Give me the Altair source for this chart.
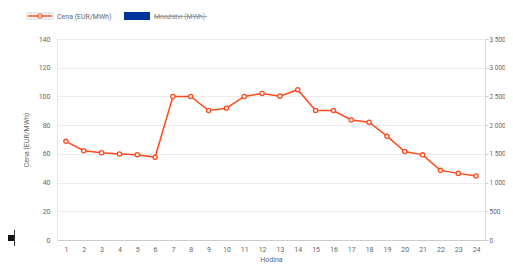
import altair as alt
import pandas as pd

hours = list(range(1, 25))
cena = [68.7, 62.2, 60.8, 59.9, 59.4, 57.6, 100.0, 100.0, 90.2, 91.8, 100.0, 102.1,
        100.2, 104.7, 90.2, 90.2, 83.6, 82.0, 72.3, 61.6, 59.3, 48.5, 46.4, 44.6]
left_ticks = [0, 20, 40, 60, 80, 100, 120, 140]
right_ticks = [0, 500, 1000, 1500, 2000, 2500, 3000, 3500]
legend_labels = ["Cena (EUR/MWh)", "Množství (MWh)"]

df = pd.DataFrame({"hodina": hours, "cena": cena})

RED = "#ff4a1c"
BLUE = "#003399"
FONT = "Roboto"
PL = 49  # left padding; plot starts at page x = 8 + PL

base = alt.Chart(df)

x_enc = alt.X("hodina:O", title="Hodina",
              scale=alt.Scale(type="point", padding=0.5),
              axis=alt.Axis(labelAngle=0, ticks=False, domainColor="#cccccc",
                            labelColor="#666666", labelFontSize=7, labelPadding=5,
                            titleColor="#666666", titleFontSize=7, titleFontWeight="normal",
                            titlePadding=3, grid=False))

line = base.mark_line(color=RED, strokeWidth=1.5, point=alt.OverlayMarkDef(
    filled=True, fill="white", stroke=RED, strokeWidth=1.3, size=18)).encode(
    x=x_enc,
    y=alt.Y("cena:Q", title="Cena (EUR/MWh)",
            scale=alt.Scale(domain=[0, 140], nice=False),
            axis=alt.Axis(values=left_ticks, ticks=False, domainColor="#e6e6e6",
                          gridColor="#ececec", labelColor="#666666", labelFontSize=7,
                          labelPadding=7, titleColor="#666666", titleFontSize=7,
                          titleFontWeight="normal", titlePadding=9))
)

right = base.mark_line(opacity=0).encode(
    x=x_enc,
    y=alt.Y("cena:Q", title=None,
            scale=alt.Scale(domain=[0, 3500], nice=False),
            axis=alt.Axis(orient="right", values=right_ticks, grid=False,
                          domainColor="#dddddd", tickColor="#cccccc", tickSize=3,
                          labelColor="#666666", labelFontSize=6.5, labelPadding=1,
                          labelExpr="replace(format(datum.value, ','), ',', ' ')"))
)

# legend (decoration), offsets relative to plot origin
ox = 59 - 8 - PL
leg_df = pd.DataFrame({"label": legend_labels})
c1 = alt.Chart(leg_df).transform_filter("datum.label == 'Cena (EUR/MWh)'")
c2 = alt.Chart(leg_df).transform_filter("datum.label == 'Množství (MWh)'")
leg_box = c1.mark_rect(fill="white", stroke="#cccccc", strokeWidth=0.8).encode(
    x=alt.value(-32 + ox), x2=alt.value(-6 + ox), y=alt.value(-26), y2=alt.value(-20))
leg_line = c1.mark_rule(color=RED, strokeWidth=1.5).encode(
    x=alt.value(-31 + ox), x2=alt.value(-7 + ox), y=alt.value(-23))
leg_pt = c1.mark_point(filled=True, fill="white", stroke=RED, strokeWidth=1.3, size=18).encode(
    x=alt.value(-19 + ox), y=alt.value(-23))
leg_t1 = c1.mark_text(align="left", baseline="middle", fontSize=7, color="#666666",
                      font=FONT).encode(x=alt.value(-2 + ox), y=alt.value(-22.5), text="label:N")
leg_rect = c2.mark_rect(fill=BLUE).encode(
    x=alt.value(65 + ox), x2=alt.value(91 + ox), y=alt.value(-27), y2=alt.value(-19))
leg_t2 = c2.mark_text(align="left", baseline="middle", fontSize=7, color="#888888",
                      font=FONT).encode(x=alt.value(95 + ox), y=alt.value(-22.5), text="label:N")
leg_strike = c2.mark_rule(color="#888888", strokeWidth=0.7).encode(
    x=alt.value(95 + ox), x2=alt.value(148 + ox), y=alt.value(-22.5))

# dark marker at the left edge (decoration seen in the reference)
blk_bar = c1.mark_rect(fill="#111111").encode(
    x=alt.value(-PL), x2=alt.value(-PL + 6), y=alt.value(196), y2=alt.value(202))
blk_rule = c1.mark_rule(color="#333333", strokeWidth=1).encode(
    x=alt.value(-PL + 6.5), y=alt.value(191), y2=alt.value(207))

chart = alt.layer(line, right, leg_box, leg_line, leg_pt, leg_t1, leg_rect, leg_t2,
                  leg_strike, blk_bar, blk_rule).resolve_scale(y="independent").properties(
    width=428, height=201,
    autosize=alt.AutoSizeParams(type="none"),
    padding={"left": PL, "top": 31, "right": 20, "bottom": 22},
).configure_view(stroke=None).configure(font=FONT)

chart.save("out.html", embed_options={"renderer": "svg", "actions": False})
